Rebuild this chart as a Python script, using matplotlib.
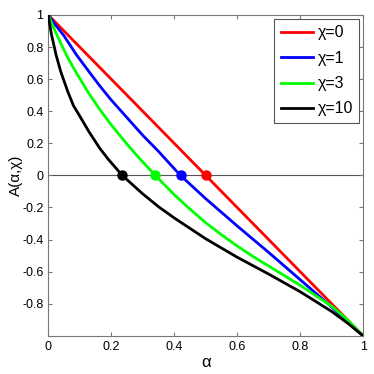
import matplotlib
matplotlib.use('Agg')
import matplotlib.pyplot as plt

plt.rcParams['font.family'] = ['Liberation Sans', 'DejaVu Sans']

# values
x_chi0 = [0.0, 0.5, 1.0]
y_chi0 = [1.0, 0.0, -1.0]

x_chi1 = [0.0, 0.02, 0.05, 0.089, 0.13, 0.164, 0.2, 0.25, 0.3, 0.35, 0.38, 0.42,
          0.5, 0.6, 0.7, 0.8, 0.9, 0.95, 1.0]
y_chi1 = [1.0, 0.945, 0.87, 0.753, 0.645, 0.557, 0.47, 0.36, 0.25, 0.15, 0.085, 0.0,
          -0.145, -0.315, -0.48, -0.65, -0.82, -0.91, -1.0]

x_chi3 = [0.0, 0.015, 0.03, 0.057, 0.08, 0.1, 0.126, 0.164, 0.2, 0.25, 0.29, 0.34,
          0.4, 0.45, 0.5, 0.55, 0.6, 0.65, 0.7, 0.8, 0.9, 0.95, 1.0]
y_chi3 = [1.0, 0.93, 0.865, 0.753, 0.67, 0.605, 0.52, 0.41, 0.315, 0.195, 0.105, 0.0,
          -0.12, -0.21, -0.295, -0.37, -0.44, -0.505, -0.565, -0.685, -0.815, -0.9, -1.0]

x_chi10 = [0.0, 0.01, 0.025, 0.04, 0.0625, 0.08, 0.1, 0.13, 0.164, 0.19, 0.235,
           0.3, 0.35, 0.4, 0.45, 0.5, 0.6, 0.7, 0.8, 0.9, 0.95, 1.0]
y_chi10 = [1.0, 0.88, 0.75, 0.645, 0.52, 0.435, 0.37, 0.27, 0.168, 0.102, 0.0,
           -0.115, -0.195, -0.265, -0.33, -0.395, -0.51, -0.615, -0.725, -0.848, -0.92, -1.0]

zeros = [0.5, 0.42, 0.34, 0.235]
labels = ['χ=0', 'χ=1', 'χ=3', 'χ=10']
colors = ['#ff0000', '#0000ff', '#00ff00', '#000000']

xticks = [0, 0.2, 0.4, 0.6, 0.8, 1]
xticklabels = ['0', '0.2', '0.4', '0.6', '0.8', '1']
yticks = [-0.8, -0.6, -0.4, -0.2, 0, 0.2, 0.4, 0.6, 0.8, 1]
yticklabels = ['-0.8', '-0.6', '-0.4', '-0.2', '0', '0.2', '0.4', '0.6', '0.8', '1']

fig = plt.figure(figsize=(3.74, 3.74), dpi=100)
ax = fig.add_axes([0.129, 0.102, 0.842, 0.858])

ax.axhline(0, color='#555555', lw=0.8, zorder=1)

series = [(x_chi0, y_chi0), (x_chi1, y_chi1), (x_chi3, y_chi3), (x_chi10, y_chi10)]
for (xs, ys), c, lab in zip(series, colors, labels):
    ax.plot(xs, ys, color=c, lw=2.0, label=lab, zorder=3,
            solid_joinstyle='round')
for z, c in zip(zeros, colors):
    ax.plot([z], [0], 'o', color=c, ms=6.5, zorder=4)

ax.set_xlim(0, 1)
ax.set_ylim(-1, 1)
ax.set_xticks(xticks)
ax.set_xticklabels(xticklabels)
ax.set_yticks(yticks)
ax.set_yticklabels(yticklabels)
ax.tick_params(direction='in', top=True, right=True, labelsize=9,
               color='#777777', length=3)
for s in ax.spines.values():
    s.set_color('#777777')

ax.set_xlabel('α', fontsize=12, labelpad=2)
ax.set_ylabel('A(α,χ)', fontsize=11, labelpad=-1)

leg = ax.legend(loc='upper right', fontsize=11.5, fancybox=False,
                edgecolor='#555555', framealpha=1, borderaxespad=0.25,
                handlelength=2.0, labelspacing=0.65, handletextpad=0.3,
                borderpad=0.4)
leg.get_frame().set_linewidth(0.8)

fig.savefig('out.png', dpi=100)
